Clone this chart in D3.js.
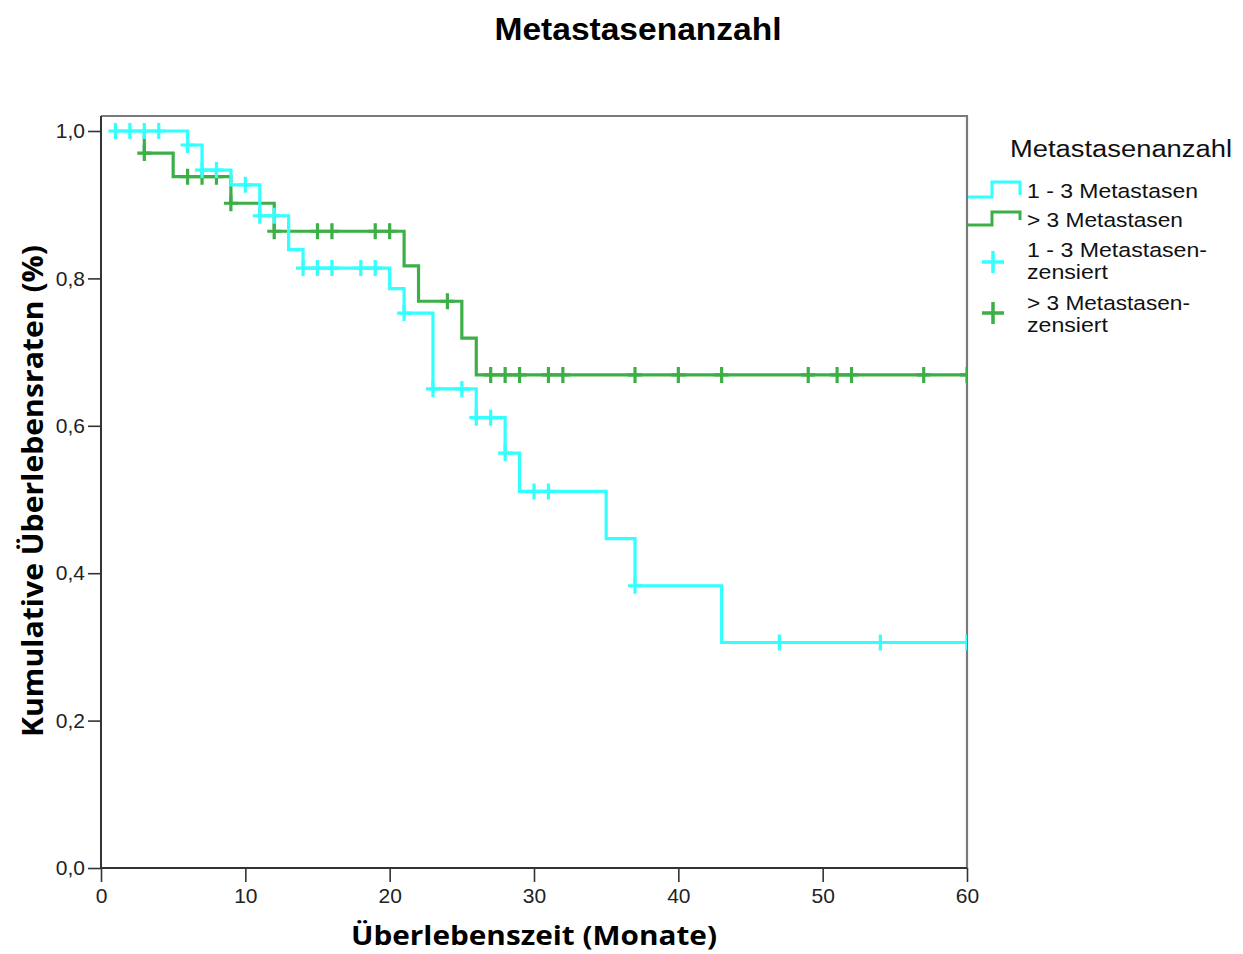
<!DOCTYPE html>
<html>
<head>
<meta charset="utf-8">
<script src="https://cdn.jsdelivr.net/npm/d3@7"></script>
<style>
  html, body { margin: 0; padding: 0; background: #ffffff; }
  svg { display: block; }
</style>
</head>
<body>
<svg id="chart" width="1243" height="954"></svg>
<script>
// Kaplan-Meier estimates, survival in months
const groupNames = ["1 - 3 Metastasen", "> 3 Metastasen"];
const censorNames = [["1 - 3 Metastasen-", "zensiert"], ["> 3 Metastasen-", "zensiert"]];

// group 1: 1 - 3 metastases
const firstMonth1 = 1;
const lastMonth1 = 60;
const eventMonths1 = [6, 7, 9, 11, 13, 14, 20, 21, 23, 26, 28, 29, 35, 37, 43];
const survival1 = [0.981, 0.947, 0.927, 0.885, 0.839, 0.814, 0.786, 0.753, 0.650, 0.611, 0.563, 0.511, 0.447, 0.383, 0.306];
const censored1 = [1, 2, 3, 4, 6, 7, 8, 10, 11, 12, 14, 15, 16, 18, 19, 21, 23, 25, 26, 27, 28, 30, 31, 37, 47, 54, 60];

// group 2: more than 3 metastases
const firstMonth2 = 3;
const lastMonth2 = 60;
const eventMonths2 = [3, 5, 9, 12, 21, 22, 25, 26];
const survival2 = [0.970, 0.938, 0.902, 0.864, 0.817, 0.769, 0.719, 0.669];
const censored2 = [3, 6, 7, 8, 9, 12, 15, 16, 19, 20, 24, 27, 28, 29, 31, 32, 37, 40, 43, 49, 51, 52, 57, 60];

const xTicks = [0, 10, 20, 30, 40, 50, 60];
const yTicks = [0, 0.2, 0.4, 0.6, 0.8, 1.0];

const colors = ["#33ffff", "#3caf46"];

const svg = d3.select("#chart");
const plotLeft = 101, plotRight = 967, plotTop = 116, plotBottom = 868;

const x = d3.scaleLinear().domain([0, 60]).range([plotLeft, plotRight]);
const y = d3.scaleLinear().domain([0, 1]).range([plotBottom, 131]);

// title
svg.append("text")
  .attr("x", 638).attr("y", 40)
  .attr("text-anchor", "middle")
  .attr("font-family", "Liberation Sans, Arial, sans-serif")
  .attr("font-weight", "bold")
  .attr("font-size", 31)
  .attr("textLength", 287).attr("lengthAdjust", "spacingAndGlyphs")
  .attr("fill", "#000")
  .text("Metastasenanzahl");

// clip the curves at the plot frame
svg.append("defs").append("clipPath").attr("id", "plot-clip")
  .append("rect").attr("x", 0).attr("y", 0).attr("width", plotRight).attr("height", plotBottom);

// plot frame: grey top/right border
svg.append("path")
  .attr("d", `M${plotLeft},${plotTop}H${plotRight}V${plotBottom}`)
  .attr("fill", "none").attr("stroke", "#7a7a7a").attr("stroke-width", 2.2);

// axes
const fmt = d => d3.format(".1f")(d).replace(".", ",");
const yAxis = svg.append("g")
  .attr("transform", `translate(${plotLeft},0)`)
  .call(d3.axisLeft(y).tickValues(yTicks).tickFormat(fmt).tickSize(13).tickPadding(3));
const xAxis = svg.append("g")
  .attr("transform", `translate(0,${plotBottom})`)
  .call(d3.axisBottom(x).tickValues(xTicks).tickFormat(d3.format("d")).tickSize(14).tickPadding(6));

[yAxis, xAxis].forEach(g => {
  g.select(".domain").remove();
  g.selectAll(".tick line").attr("stroke", "#333").attr("stroke-width", 1.6);
  g.selectAll(".tick text")
    .attr("font-family", "Liberation Sans, Arial, sans-serif")
    .attr("font-size", 21).attr("fill", "#222");
});
// axis lines
svg.append("line").attr("x1", plotLeft).attr("x2", plotLeft).attr("y1", plotTop).attr("y2", plotBottom)
  .attr("stroke", "#333").attr("stroke-width", 2);
svg.append("line").attr("x1", plotLeft).attr("x2", plotRight).attr("y1", plotBottom).attr("y2", plotBottom)
  .attr("stroke", "#333").attr("stroke-width", 2);

// axis titles
svg.append("text")
  .attr("x", (plotLeft + plotRight) / 2).attr("y", 945)
  .attr("text-anchor", "middle")
  .attr("font-family", "Open Sans, sans-serif")
  .attr("font-weight", "bold").attr("font-size", 27)
  .attr("textLength", 366).attr("lengthAdjust", "spacingAndGlyphs")
  .text("Überlebenszeit (Monate)");
svg.append("text")
  .attr("transform", "translate(43,491) rotate(-90)")
  .attr("text-anchor", "middle")
  .attr("font-family", "Open Sans, sans-serif")
  .attr("font-weight", "bold").attr("font-size", 28)
  .attr("textLength", 492).attr("lengthAdjust", "spacingAndGlyphs")
  .text("Kumulative Überlebensraten (%)");

// survival curves
const series = [
  { start: firstMonth1, end: lastMonth1, months: eventMonths1, surv: survival1, cens: censored1, color: colors[0] },
  { start: firstMonth2, end: lastMonth2, months: eventMonths2, surv: survival2, cens: censored2, color: colors[1] }
];

function stepPoints(s) {
  const pts = [[s.start, 1.0]];
  s.months.forEach((m, i) => pts.push([m, s.surv[i]]));
  pts.push([s.end, s.surv[s.surv.length - 1]]);
  return pts;
}
function survivalAt(s, t) {
  let v = 1.0;
  s.months.forEach((m, i) => { if (m <= t) v = s.surv[i]; });
  return v;
}

const line = d3.line().x(d => x(d[0])).y(d => y(d[1])).curve(d3.curveStepAfter);
const plot = svg.append("g").attr("clip-path", "url(#plot-clip)");

// drawn in reverse so the first group sits on top
[series[1], series[0]].forEach(s => {
  const g = plot.append("g");
  g.append("path")
    .attr("d", line(stepPoints(s)))
    .attr("fill", "none").attr("stroke", s.color).attr("stroke-width", 3.2);
  g.selectAll("path.cens").data(s.cens).join("path")
    .attr("class", "cens")
    .attr("d", t => {
      const cx = x(t), cy = y(survivalAt(s, t));
      return `M${cx - 7},${cy}H${cx + 7}M${cx},${cy - 8}V${cy + 8}`;
    })
    .attr("fill", "none").attr("stroke", s.color).attr("stroke-width", 3.2);
});

// legend
const lg = svg.append("g").attr("font-family", "Liberation Sans, Arial, sans-serif").attr("fill", "#111");
lg.append("text").attr("x", 1010).attr("y", 157).attr("font-size", 23)
  .attr("textLength", 222).attr("lengthAdjust", "spacingAndGlyphs")
  .text("Metastasenanzahl");

const stepSym = [
  { yLow: 197, yHigh: 182, yEnd: 195 },
  { yLow: 225, yHigh: 212, yEnd: 220 }
];
const labelY = [198, 227];
const labelW = [171, 156];
series.forEach((s, i) => {
  const d = stepSym[i];
  lg.append("path")
    .attr("d", `M968,${d.yLow}H992V${d.yHigh}H1020V${d.yEnd}`)
    .attr("fill", "none").attr("stroke", s.color).attr("stroke-width", 3);
  lg.append("text").attr("x", 1027).attr("y", labelY[i]).attr("font-size", 20.5)
    .attr("textLength", labelW[i]).attr("lengthAdjust", "spacingAndGlyphs")
    .text(groupNames[i]);
});

const plusY = [262, 313];
const censLineY = [[257, 279], [310, 332]];
const censLineW = [[180, 81], [163, 81]];
series.forEach((s, i) => {
  const cy = plusY[i];
  lg.append("path")
    .attr("d", `M982,${cy}H1004M993,${cy - 11}V${cy + 11}`)
    .attr("fill", "none").attr("stroke", s.color).attr("stroke-width", 3.5);
  censorNames[i].forEach((txt, k) => {
    lg.append("text").attr("x", 1027).attr("y", censLineY[i][k]).attr("font-size", 20.5)
      .attr("textLength", censLineW[i][k]).attr("lengthAdjust", "spacingAndGlyphs")
      .text(txt);
  });
});
</script>
</body>
</html>
